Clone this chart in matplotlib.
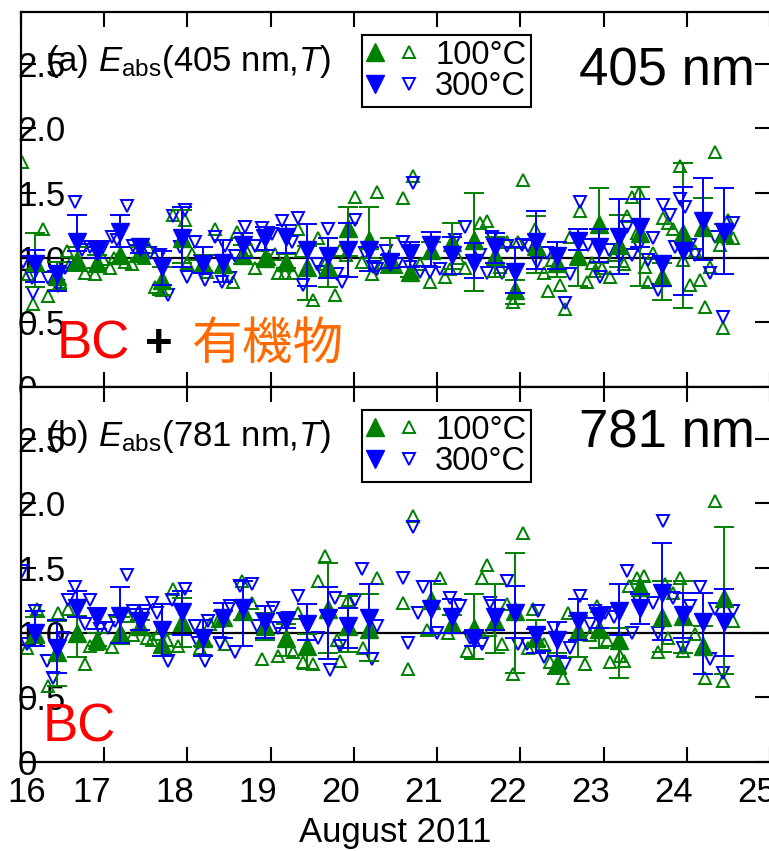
import matplotlib
matplotlib.use("Agg")
import matplotlib.pyplot as plt
import numpy as np
from matplotlib.lines import Line2D
from matplotlib.legend_handler import HandlerTuple
import matplotlib.transforms as mtrans

plt.rcParams['font.family'] = ['Liberation Sans', 'Noto Sans CJK JP', 'DejaVu Sans']
plt.rcParams['mathtext.fontset'] = 'custom'
plt.rcParams['mathtext.rm'] = 'Liberation Sans'
plt.rcParams['mathtext.it'] = 'Liberation Sans:italic'

# ---------------- data ----------------
# 6-hour averages (filled markers) with error-bar bounds
top_avg_days = [16.17, 16.43, 16.67, 16.91, 17.19, 17.43, 17.70, 17.94, 18.19, 18.43, 18.67, 18.93,
                19.19, 19.44, 19.69, 19.93, 20.18, 20.43, 20.68, 20.93, 21.18, 21.44, 21.69, 21.94,
                22.19, 22.44, 22.69, 22.94, 23.19, 23.44, 23.70, 23.95, 24.20, 24.45]
top300_avg = [0.95, 0.87, 1.12, 1.05, 1.20, 1.08, 0.93, 1.15, 0.95, 0.96, 1.10, 1.15,
              1.16, 1.06, 1.01, 1.06, 1.06, 0.97, 1.04, 1.10, 1.02, 0.96, 1.08, 0.89,
              1.12, 1.01, 1.13, 1.08, 1.16, 1.24, 0.95, 1.05, 1.28, 1.20]
top300_lo = [0.81, 0.74, 1.05, 1.00, 1.08, 1.04, 0.79, 0.93, 0.88, 0.81, 1.00, 1.06,
             1.04, 0.78, 0.84, 0.85, 0.90, 0.92, 0.93, 0.93, 0.87, 0.84, 0.96, 0.73,
             0.91, 0.91, 1.06, 0.97, 0.87, 1.08, 0.78, 0.71, 0.98, 0.87]
top300_hi = [1.06, 0.90, 1.33, 1.08, 1.33, 1.10, 1.05, 1.39, 1.08, 1.14, 1.19, 1.24,
             1.25, 1.26, 1.15, 1.27, 1.08, 1.02, 1.12, 1.20, 1.16, 1.11, 1.19, 1.08,
             1.36, 1.12, 1.22, 1.22, 1.45, 1.45, 1.01, 1.55, 1.62, 1.54]
top100_avg = [0.97, 0.86, 0.98, 0.96, 1.02, 1.04, 0.83, 1.15, 0.96, 0.95, 1.02, 1.00,
              0.97, 0.93, 0.93, 1.23, 1.14, 0.97, 0.89, 1.06, 1.12, 1.14, 1.01, 0.75,
              1.09, 0.96, 1.01, 1.26, 1.10, 1.19, 0.85, 1.19, 1.24, 1.19]
top100_lo = [0.77, 0.75, 0.90, 0.92, 0.96, 1.00, 0.71, 0.96, 0.90, 0.88, 0.95, 0.95,
             0.92, 0.67, 0.77, 1.01, 1.00, 0.88, 0.85, 1.00, 0.91, 0.74, 0.85, 0.64,
             0.88, 0.85, 0.78, 0.96, 0.93, 0.78, 0.67, 0.61, 0.98, 1.12]
top100_hi = [1.19, 0.97, 1.08, 1.02, 1.08, 1.08, 0.93, 1.37, 1.02, 1.02, 1.10, 1.06,
             1.03, 1.09, 1.15, 1.39, 1.39, 1.15, 0.93, 1.12, 1.27, 1.50, 1.16, 0.83,
             1.32, 1.12, 1.18, 1.54, 1.33, 1.55, 0.96, 1.73, 1.46, 1.26]

bot_avg_days = [16.17, 16.43, 16.67, 16.91, 17.19, 17.43, 17.70, 17.94, 18.19, 18.43, 18.67, 18.93,
                19.19, 19.44, 19.69, 19.93, 20.18, 20.93, 21.18, 21.44, 21.69, 21.94,
                22.19, 22.44, 22.69, 22.94, 23.19, 23.44, 23.70, 23.95, 24.20, 24.45]
bot300_avg = [1.00, 0.88, 1.19, 1.12, 1.13, 1.09, 1.02, 1.16, 0.96, 1.11, 1.19, 1.08,
              1.09, 1.07, 1.11, 1.05, 1.11, 1.18, 1.12, 0.95, 1.12, 1.15,
              0.98, 0.94, 1.09, 1.13, 1.17, 1.19, 1.31, 1.14, 1.08, 1.08]
bot300_lo = [0.90, 0.69, 1.12, 1.03, 0.92, 1.02, 0.82, 0.98, 0.82, 0.96, 0.90, 0.96,
             1.04, 0.94, 0.80, 0.88, 0.84, 1.00, 1.00, 0.90, 1.02, 0.96,
             0.84, 0.82, 0.94, 1.04, 0.98, 1.07, 0.94, 0.96, 0.68, 0.82]
bot300_hi = [1.17, 1.10, 1.32, 1.19, 1.35, 1.18, 1.22, 1.32, 1.10, 1.23, 1.40, 1.21,
             1.15, 1.22, 1.35, 1.19, 1.38, 1.40, 1.26, 1.02, 1.25, 1.36,
             1.03, 1.08, 1.26, 1.19, 1.38, 1.30, 1.69, 1.31, 1.31, 1.34]
bot100_avg = [1.00, 0.85, 1.00, 0.94, 1.00, 1.05, 0.91, 1.08, 0.96, 1.12, 1.17, 1.05,
              0.96, 0.90, 1.18, 1.05, 1.03, 1.25, 1.07, 1.04, 1.09, 1.17,
              0.96, 0.76, 1.01, 1.03, 0.94, 1.35, 1.12, 1.13, 0.90, 1.27]
bot100_lo = [0.92, 0.59, 0.81, 0.90, 0.91, 1.00, 0.82, 0.89, 0.90, 0.96, 1.10, 0.94,
             0.82, 0.72, 0.84, 0.85, 0.78, 0.99, 1.00, 0.80, 0.84, 0.69,
             0.90, 0.68, 0.81, 0.88, 0.65, 1.30, 0.85, 0.84, 0.68, 0.68]
bot100_hi = [1.12, 1.09, 1.13, 1.00, 1.12, 1.10, 0.99, 1.27, 1.02, 1.17, 1.24, 1.15,
             1.07, 0.99, 1.54, 1.28, 1.30, 1.40, 1.14, 1.30, 1.38, 1.62,
             1.10, 0.84, 1.13, 1.19, 1.04, 1.40, 1.40, 1.40, 1.05, 1.82]

# individual measurements (open markers)
top100_days = [16.01, 16.08, 16.14, 16.26, 16.32, 16.47, 16.55, 16.60, 16.77, 16.89, 16.98, 17.07,
               17.12, 17.25, 17.33, 17.40, 17.48, 17.53, 17.61, 17.70, 17.83, 17.97, 18.00, 18.06,
               18.24, 18.33, 18.40, 18.55, 18.60, 18.70, 18.81, 18.90, 18.98, 19.05, 19.09, 19.17,
               19.27, 19.33, 19.37, 19.51, 19.57, 19.65, 19.77, 19.83, 19.90, 20.01, 20.10, 20.22,
               20.28, 20.35, 20.50, 20.59, 20.71, 20.80, 20.92, 21.10, 21.16, 21.25, 21.34, 21.52,
               21.60, 21.75, 21.84, 21.91, 21.97, 22.03, 22.18, 22.28, 22.33, 22.38, 22.48, 22.54,
               22.60, 22.72, 22.80, 22.86, 22.90, 22.98, 23.08, 23.12, 23.24, 23.28, 23.34, 23.40,
               23.42, 23.50, 23.54, 23.60, 23.72, 23.78, 23.84, 23.92, 23.96, 24.04, 24.10, 24.16,
               24.22, 24.28, 24.34, 24.40, 24.43, 24.49, 24.56]
top100_vals = [1.74, 0.87, 0.64, 1.22, 0.70, 0.81, 1.05, 0.97, 0.88, 0.87, 0.99, 0.92,
               1.00, 0.97, 0.95, 1.02, 1.00, 1.08, 0.77, 0.75, 1.33, 1.29, 0.96, 1.03,
               0.89, 1.22, 0.93, 0.81, 1.20, 1.06, 0.92, 1.10, 0.99, 1.03, 0.88, 0.88,
               0.88, 1.22, 1.05, 0.67, 1.15, 0.95, 0.71, 1.06, 1.02, 1.47, 0.97, 0.87,
               1.51, 0.96, 0.93, 1.46, 1.63, 0.95, 0.81, 0.85, 0.91, 1.00, 0.92, 1.27,
               1.28, 0.93, 1.12, 0.66, 1.12, 1.60, 1.22, 0.88, 0.74, 0.98, 0.79, 0.60,
               1.16, 1.36, 0.81, 0.96, 0.90, 0.92, 0.85, 1.02, 0.95, 1.32, 1.47, 1.19,
               1.50, 0.93, 0.81, 1.04, 1.31, 1.27, 1.22, 1.71, 0.98, 0.79, 1.05, 0.83,
               0.62, 0.93, 1.82, 1.10, 0.46, 1.29, 1.15]

top300_days = [16.02, 16.13, 16.14, 16.32, 16.44, 16.53, 16.65, 16.73, 16.83, 16.99, 17.09, 17.15,
               17.27, 17.35, 17.55, 17.67, 17.77, 17.83, 17.91, 17.97, 18.00, 18.09, 18.21, 18.33,
               18.41, 18.45, 18.51, 18.57, 18.69, 18.81, 18.90, 19.02, 19.14, 19.26, 19.33, 19.39,
               19.56, 19.62, 19.69, 19.80, 19.86, 20.01, 20.13, 20.23, 20.28, 20.38, 20.52, 20.59,
               20.68, 20.71, 20.80, 20.92, 21.04, 21.22, 21.34, 21.52, 21.60, 21.66, 21.78, 21.84,
               22.02, 22.09, 22.20, 22.32, 22.54, 22.60, 22.72, 22.81, 22.96, 23.06, 23.20, 23.28,
               23.34, 23.42, 23.54, 23.60, 23.65, 23.72, 23.80, 23.86, 23.92, 23.98, 24.04, 24.10,
               24.28, 24.34, 24.43, 24.49, 24.55]
top300_vals = [0.97, 0.84, 0.73, 0.84, 0.78, 0.92, 1.43, 1.06, 1.08, 1.08, 1.16, 1.14,
               1.40, 1.09, 1.04, 1.02, 0.71, 1.32, 1.08, 1.37, 0.85, 1.12, 0.83, 1.16,
               0.81, 1.09, 0.84, 1.01, 1.24, 1.09, 1.23, 1.18, 1.28, 1.12, 1.31, 0.79,
               0.95, 0.89, 1.22, 0.87, 0.81, 1.29, 1.04, 0.93, 0.91, 1.05, 0.95, 1.12,
               0.93, 1.58, 0.89, 0.89, 0.91, 1.14, 1.24, 1.02, 0.88, 1.16, 0.88, 1.09,
               1.10, 1.09, 0.97, 1.04, 0.65, 0.87, 1.43, 1.10, 0.85, 1.06, 1.01, 1.24,
               1.02, 1.09, 0.98, 1.15, 0.75, 1.41, 1.33, 1.08, 1.45, 1.39, 1.10, 1.02,
               0.88, 1.16, 0.54, 1.20, 1.27]

bot100_days = [16.07, 16.19, 16.32, 16.44, 16.56, 16.77, 16.83, 16.91, 17.09, 17.21, 17.29, 17.35,
               17.51, 17.57, 17.65, 17.75, 17.83, 17.89, 18.15, 18.27, 18.37, 18.45, 18.66, 18.78,
               18.90, 18.95, 19.09, 19.27, 19.33, 19.39, 19.51, 19.57, 19.65, 19.80, 19.83, 19.93,
               20.11, 20.28, 20.59, 20.65, 20.71, 20.88, 21.04, 21.13, 21.36, 21.54, 21.60, 21.64,
               21.78, 21.84, 21.91, 22.03, 22.09, 22.15, 22.28, 22.36, 22.51, 22.57, 22.78, 22.84,
               22.92, 23.04, 23.08, 23.20, 23.24, 23.30, 23.40, 23.48, 23.66, 23.74, 23.78, 23.84,
               23.92, 23.96, 24.10, 24.22, 24.34, 24.43, 24.55]
bot100_vals = [0.88, 1.18, 0.59, 1.15, 1.18, 0.76, 0.90, 0.91, 0.89, 0.99, 1.13, 0.98,
               0.96, 0.94, 0.99, 0.94, 1.34, 0.90, 0.88, 1.07, 1.09, 0.91, 1.40, 1.23,
               0.80, 1.04, 0.82, 0.85, 1.15, 0.77, 0.76, 1.40, 1.59, 0.94, 0.78, 1.25,
               0.88, 1.42, 1.23, 0.72, 1.90, 1.02, 1.42, 1.00, 0.86, 1.42, 1.52, 1.02,
               0.91, 1.22, 0.68, 1.77, 0.88, 1.18, 0.91, 0.77, 0.65, 1.15, 0.76, 0.98,
               1.21, 0.94, 0.77, 0.82, 0.78, 1.36, 1.42, 1.44, 0.85, 1.38, 0.96, 1.31,
               1.42, 0.86, 0.99, 0.65, 2.02, 0.63, 1.09]

bot300_days = [16.01, 16.07, 16.17, 16.31, 16.38, 16.50, 16.56, 16.65, 16.77, 16.83, 16.95, 17.05,
               17.13, 17.27, 17.35, 17.49, 17.57, 17.63, 17.77, 17.81, 17.97, 18.09, 18.13, 18.21,
               18.25, 18.39, 18.51, 18.57, 18.63, 18.78, 18.84, 19.03, 19.09, 19.21, 19.33, 19.57,
               19.71, 19.77, 19.83, 20.01, 20.10, 20.22, 20.28, 20.59, 20.65, 20.71, 20.77, 20.83,
               21.00, 21.16, 21.28, 21.40, 21.54, 21.64, 21.84, 21.97, 22.08, 22.21, 22.28, 22.40,
               22.54, 22.60, 22.72, 22.84, 22.90, 23.02, 23.12, 23.28, 23.34, 23.40, 23.60, 23.66,
               23.72, 23.84, 23.96, 24.04, 24.16, 24.28, 24.34, 24.43, 24.55]
bot300_vals = [1.48, 0.91, 1.17, 0.78, 0.65, 0.96, 1.25, 1.35, 1.07, 1.25, 1.03, 1.04,
               1.09, 1.45, 1.17, 1.17, 1.23, 1.15, 0.78, 1.25, 1.34, 1.05, 0.92, 0.78,
               1.09, 0.92, 1.21, 0.85, 1.36, 1.38, 1.05, 1.19, 1.04, 1.11, 1.28, 0.96,
               0.71, 1.27, 0.90, 1.25, 1.49, 0.80, 1.05, 1.42, 0.92, 1.82, 1.15, 1.35,
               1.00, 1.27, 1.21, 0.96, 0.91, 1.23, 1.40, 0.91, 0.91, 1.17, 0.81, 1.04,
               0.76, 0.88, 1.28, 1.07, 1.17, 1.15, 1.12, 1.48, 1.00, 1.27, 1.23, 1.00,
               1.86, 1.27, 0.88, 1.21, 1.35, 0.80, 1.18, 0.69, 1.17]

x_ticks = [16, 17, 18, 19, 20, 21, 22, 23, 24, 25]
y_ticks = [0, 0.5, 1.0, 1.5, 2.0, 2.5]
y_ticklabels = ['0', '0.5', '1.0', '1.5', '2.0', '2.5']

GREEN = '#008000'
BLUE = '#0000FF'
FS = 25

W, H = 769, 851
fig = plt.figure(figsize=(W / 100, H / 100), dpi=100)
ax_l = 21 / W
ax_w = 749 / W
ax1 = fig.add_axes([ax_l, 1 - 387 / H, ax_w, 375 / H])
ax2 = fig.add_axes([ax_l, 1 - 762 / H, ax_w, 375 / H], sharex=ax1)


def draw(ax, d100, v100, d300, v300, ad, a100, l100, h100, ad2, a300, l300, h300):
    ax.axhline(1.0, color='black', lw=1.6, zorder=1)
    ax.plot(d100, v100, linestyle='none', marker='^', ms=8, mfc='none', mec=GREEN, mew=1.4, zorder=2)
    ax.plot(d300, v300, linestyle='none', marker='v', ms=8, mfc='none', mec=BLUE, mew=1.4, zorder=2)
    a100 = np.array(a100); l100 = np.array(l100); h100 = np.array(h100)
    a300 = np.array(a300); l300 = np.array(l300); h300 = np.array(h300)
    ax.errorbar(ad, a100, yerr=[a100 - l100, h100 - a100], fmt='^', ms=13, color=GREEN,
                ecolor=GREEN, elinewidth=1.4, capsize=7, capthick=1.4, zorder=3)
    ax.errorbar(ad2, a300, yerr=[a300 - l300, h300 - a300], fmt='v', ms=13, color=BLUE,
                ecolor=BLUE, elinewidth=1.4, capsize=7, capthick=1.4, zorder=4)
    ax.set_xlim(16, 25)
    ax.set_ylim(0, 2.9)
    ax.set_yticks(y_ticks)
    ax.set_yticklabels(y_ticklabels)
    ax.set_xticks(x_ticks)
    ax.tick_params(axis='both', which='both', direction='in', length=10.5, width=1.5,
                   top=True, right=True, labelsize=FS)
    ax.tick_params(axis='y', pad=2.5)
    ax.tick_params(axis='x', pad=10)
    for lab in ax.get_yticklabels():
        lab.set_horizontalalignment('left')
    for s in ax.spines.values():
        s.set_linewidth(1.6)
    h1 = (Line2D([], [], ls='none', marker='^', ms=13, color=GREEN),
          Line2D([], [], ls='none', marker='^', ms=8, mfc='none', mec=GREEN, mew=1.4))
    h2 = (Line2D([], [], ls='none', marker='v', ms=13, color=BLUE),
          Line2D([], [], ls='none', marker='v', ms=8, mfc='none', mec=BLUE, mew=1.4))
    leg = ax.legend([h1, h2], ['100°C', '300°C'], handler_map={tuple: HandlerTuple(ndivide=None, pad=0.5)},
                    loc='upper left', bbox_to_anchor=(0.455, 0.939), borderaxespad=0,
                    fontsize=23.5, handlelength=1.55, handletextpad=0.55, borderpad=0.15,
                    labelspacing=0.02, fancybox=False, framealpha=1, edgecolor='black')
    leg.get_frame().set_linewidth(1.5)


draw(ax1, top100_days, top100_vals, top300_days, top300_vals,
     top_avg_days, top100_avg, top100_lo, top100_hi,
     top_avg_days, top300_avg, top300_lo, top300_hi)
draw(ax2, bot100_days, bot100_vals, bot300_days, bot300_vals,
     bot_avg_days, bot100_avg, bot100_lo, bot100_hi,
     bot_avg_days, bot300_avg, bot300_lo, bot300_hi)

plt.setp(ax1.get_xticklabels(), visible=False)

ax1.text(0.033, 0.867, r'(a) $E_{\mathrm{abs}}$(405 nm,$T$)', transform=ax1.transAxes,
         fontsize=25, ha='left', va='center')
ax2.text(0.033, 0.867, r'(b) $E_{\mathrm{abs}}$(781 nm,$T$)', transform=ax2.transAxes,
         fontsize=25, ha='left', va='center')
ax1.text(0.98, 0.84, '405 nm', transform=ax1.transAxes, fontsize=38, ha='right', va='center')
ax2.text(0.98, 0.877, '781 nm', transform=ax2.transAxes, fontsize=38, ha='right', va='center')

ax1.text((57 - 21) / 749, (387 - 345) / 375, 'BC', transform=ax1.transAxes, fontsize=38,
         color='red', ha='left', va='center')
ax1.text((145 - 21) / 749, (387 - 345) / 375, '+', transform=ax1.transAxes, fontsize=34,
         color='black', ha='left', va='center', fontweight='bold')
ax1.text((192 - 21) / 749, (387 - 345) / 375, '有機物', transform=ax1.transAxes, fontsize=36.5,
         color='#FF6A00', ha='left', va='center', family=['Noto Sans CJK JP', 'DejaVu Sans'])
ax2.text((43 - 21) / 749, (762 - 727) / 375, 'BC', transform=ax2.transAxes, fontsize=38,
         color='red', ha='left', va='center')

ax2.set_xlabel('August 2011', fontsize=FS, labelpad=5)

# shift x tick labels slightly left as in the reference
for lab in ax2.get_xticklabels():
    off = 6 if lab.get_text() == '16' else -13
    lab.set_transform(lab.get_transform() + mtrans.ScaledTranslation(off / 100, 0, fig.dpi_scale_trans))

fig.savefig('out.png', dpi=100)
